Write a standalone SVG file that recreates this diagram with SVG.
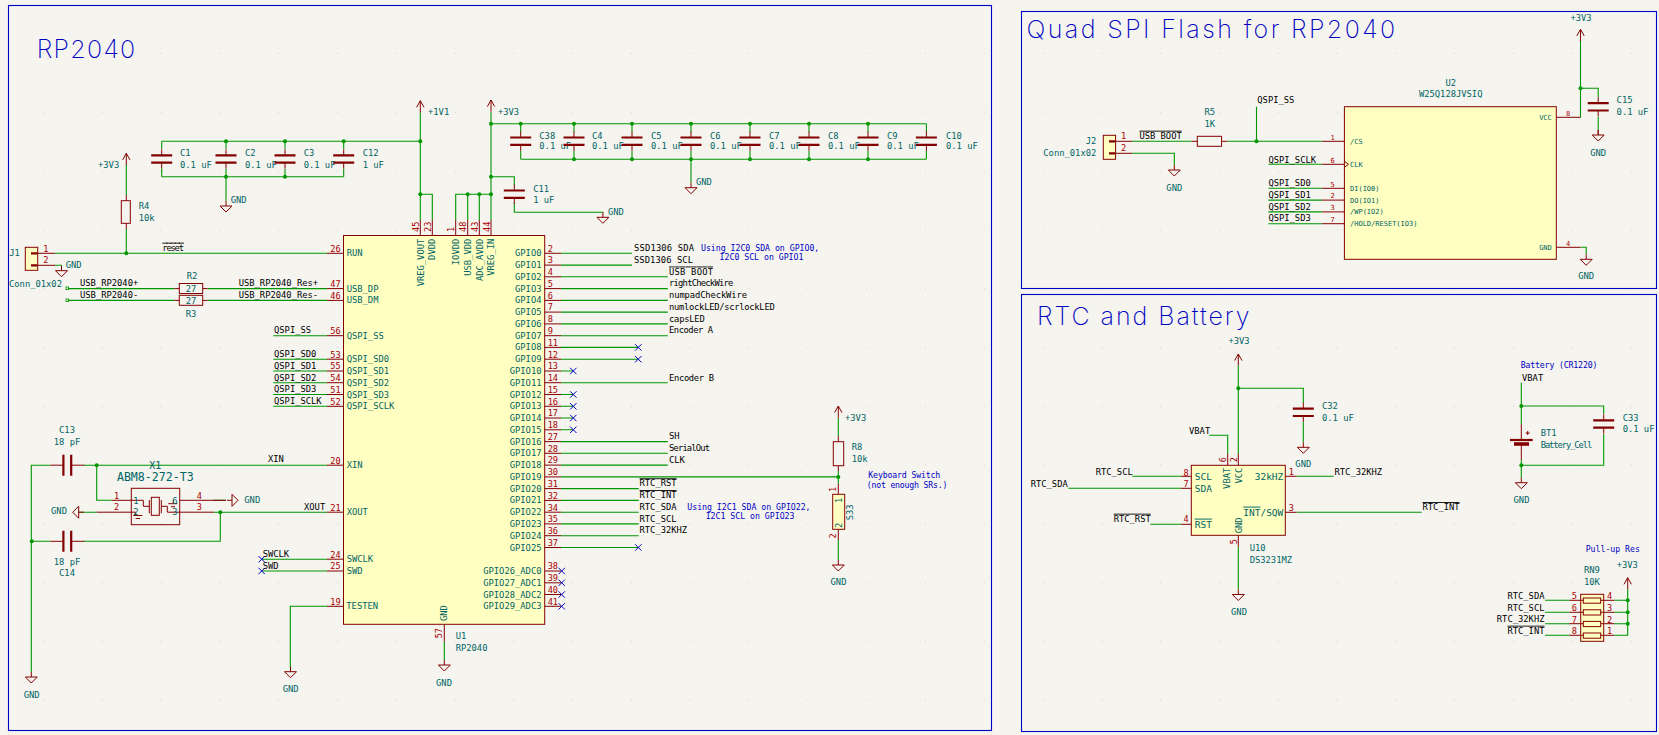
<svg xmlns="http://www.w3.org/2000/svg" width="1659" height="735" viewBox="0 0 1659 735">
<style>
text{font-family:"DejaVu Sans Mono","Liberation Mono",monospace;font-size:8.8px}
.t{fill:#006464}.n{fill:#a90000;font-size:8.6px}.l{fill:#000}.b{fill:#0000c2;font-size:8.2px}
.e{text-anchor:end}.m{text-anchor:middle}
.s{font-size:7px}
.ti{font-family:Inter,"Liberation Sans",sans-serif;font-weight:200;font-size:25px;fill:#0000c2}
.ov{text-decoration:overline}
.w{fill:none;stroke:#009600;stroke-width:1.1}
.p{fill:none;stroke:#840000;stroke-width:1}
.pt{fill:none;stroke:#840000;stroke-width:2.2}
.body{fill:#ffffc2;stroke:#840000;stroke-width:1}
.f{fill:none;stroke:#0000c8;stroke-width:1.1}
.j{fill:#009600}
.nc{fill:none;stroke:#0000c2;stroke-width:1}
</style>
<defs>
<pattern id="grid" x="43" y="53" width="58.8" height="58.8" patternUnits="userSpaceOnUse"><rect width="1" height="1" fill="#cfcfc8"/></pattern>
<path id="gnd" class="p" d="M0 -5V0M-6 0H6L0 6Z"/>
<path id="pwr" class="p" d="M-3.7 6.6L0 0L3.7 6.6M0 0V11.8"/>
<g id="cap"><path class="p" d="M0 -3.7V-9.7M0 3.7V9.7"/><path class="pt" d="M-10.5 -3.7H10.5M-10.5 3.7H10.5"/></g>
<g id="caph"><path class="p" d="M-3.9 0H-17M3.9 0H17"/><path class="pt" d="M-3.9 -10.5V10.5M3.9 -10.5V10.5"/></g>
<circle id="jn" class="j" r="2"/>
<path id="x" class="nc" d="M-3.2 -3.2L3.2 3.2M-3.2 3.2L3.2 -3.2"/>
</defs>
<rect width="1659" height="735" fill="#f5f4ef"/>
<rect width="1659" height="735" fill="url(#grid)"/>

<g id="frames">
<rect class="f" x="8.5" y="5.5" width="983" height="725"/>
<rect class="f" x="1021.5" y="11.5" width="635" height="277"/>
<rect class="f" x="1021.5" y="294.5" width="635" height="437"/>
<text class="ti" x="36.7" y="58" textLength="98.5">RP2040</text>
<text class="ti" x="1026.5" y="38.3" textLength="368.5">Quad SPI Flash for RP2040</text>
<text class="ti" x="1037" y="325" textLength="212.5">RTC and Battery</text>
</g>

<g id="connectors">
<path class="w" d="M420.3 112.5V220M420.3 194.3H432.3V220M161.7 141.3H420.3M161.7 141.3V149M226 141.3V149M285 141.3V149M343.7 141.3V149M161.7 176.7H343.7M161.7 176.7V169M226 176.7V169M285 176.7V169M343.7 176.7V169M226 176.7V201"/>
<path class="w" d="M491 112V220M455.7 220V194.3H491M467.7 194.3V220M479.3 194.3V220M491 123.7H926.4M520.7 123.7V132M574 123.7V132M632 123.7V132M691 123.7V132M750 123.7V132M809 123.7V132M868 123.7V132M926.4 123.7V132M520.7 159.3H926.4M520.7 159.3V151M574 159.3V151M632 159.3V151M691 159.3V151M750 159.3V151M809 159.3V151M868 159.3V151M926.4 159.3V151M691 159.3V182.7M491 176.7H514.3V185M514.3 203V212.3H602.9V212.8"/>
<path class="w" d="M126.3 165V195M126.3 229V253.3M55 253.3H327M55 265.3H61.5V265.7M68 288.6H174.3M207.7 288.6H327M68 300.4H174.3M207.7 300.4H327"/>
<path class="w" d="M273.3 335.7H327M273.3 359.2H327M273.3 371H327M273.3 382.7H327M273.3 394.5H327M273.3 406.3H327"/>
<path class="w" d="M31.3 672V465.2H50M83.7 465.2H327M96.7 465.2V500.3H111.7M31.3 541.3H50M83.7 541.3H220.3V512.2M78.7 512.2H96.7M214 500.3H226M214 512.2H327M261.7 559.2H327M261.7 571H327M327 606.3H290.3V667M444.3 641.7V660"/>
<path class="w" d="M561 253.3H632M561 265.1H632M561 276.8H667.8M561 288.6H667.8M561 300.4H667.8M561 312.1H667.8M561 323.9H667.8M561 335.7H667.8M561 347.4H638.3M561 359.2H638.3M561 371H573.3M561 382.7H667.8M561 394.5H573.3M561 406.3H573.3M561 418H573.3M561 429.8H573.3M561 441.6H667.8M561 453.3H667.8M561 465.1H667.8M561 476.9H838.3M561 488.6H638.7M561 500.4H638.7M561 512.2H638.7M561 523.9H638.7M561 535.7H638.7M561 547.5H638.3"/>
<path class="w" d="M838.3 418V436M838.3 471V484M838.3 540V560"/>
<path class="w" d="M1132 141.3H1191.6M1227.3 141.3H1321.8M1256.5 141.3V106.7M1132 153.3H1174.3V165M1268.4 164.3H1321.8M1268.4 188.3H1321.8M1268.4 200.1H1321.8M1268.4 211.9H1321.8M1268.4 223.7H1321.8M1580.5 41V117.3M1580.5 88.3H1598.2V97M1598.2 117V130M1580.5 247.3H1586.2V254.3"/>
<path class="w" d="M1238.3 366V454M1238.3 388.3H1303.3V403M1303.3 422V442.3M1209.3 435.3H1227.7V454M1132.3 476.3H1181M1068.3 488.3H1181M1150.3 524.3H1181M1296.7 476.3H1333.7M1296.7 512.3H1421.7M1238.3 546.7V589.5"/>
<path class="w" d="M1521.3 382.7V424M1521.3 406H1603.7V414M1603.7 434V465.3H1521.3M1521.3 460V477.7"/>
<path class="w" d="M1545 600.3H1569.3M1545 612.3H1569.3M1545 623.7H1569.3M1545 635.3H1569.3M1614.3 600.3H1627.7M1614.3 612.3H1627.7M1614.3 623.7H1627.7M1614.3 635.3H1627.7V589.5"/>
<rect x="66" y="287" width="2.6" height="2.6" fill="none" stroke="#009600" stroke-width="0.8"/>
<rect x="66" y="299" width="2.6" height="2.6" fill="none" stroke="#009600" stroke-width="0.8"/>
<g id="junctions">
<use href="#jn" x="420.3" y="141.3"/><use href="#jn" x="226" y="141.3"/><use href="#jn" x="285" y="141.3"/><use href="#jn" x="343.7" y="141.3"/>
<use href="#jn" x="226" y="176.7"/><use href="#jn" x="285" y="176.7"/><use href="#jn" x="420.3" y="194.3"/>
<use href="#jn" x="467.7" y="194.3"/><use href="#jn" x="479.3" y="194.3"/><use href="#jn" x="491" y="194.3"/><use href="#jn" x="491" y="176.7"/><use href="#jn" x="491" y="123.7"/>
<use href="#jn" x="520.7" y="123.7"/><use href="#jn" x="574" y="123.7"/><use href="#jn" x="632" y="123.7"/><use href="#jn" x="691" y="123.7"/><use href="#jn" x="750" y="123.7"/><use href="#jn" x="809" y="123.7"/><use href="#jn" x="868" y="123.7"/>
<use href="#jn" x="574" y="159.3"/><use href="#jn" x="632" y="159.3"/><use href="#jn" x="691" y="159.3"/><use href="#jn" x="750" y="159.3"/><use href="#jn" x="809" y="159.3"/><use href="#jn" x="868" y="159.3"/>
<use href="#jn" x="126.3" y="253.3"/><use href="#jn" x="96.7" y="465.2"/><use href="#jn" x="31.8" y="541.3"/><use href="#jn" x="220.3" y="512.2"/><use href="#jn" x="838.3" y="476.9"/>
<use href="#jn" x="1256.5" y="141.3"/><use href="#jn" x="1580.5" y="88.3"/><use href="#jn" x="1238.3" y="388.3"/><use href="#jn" x="1521.3" y="406"/><use href="#jn" x="1521.3" y="465.3"/>
<use href="#jn" x="1627.7" y="600.3"/><use href="#jn" x="1627.7" y="612.3"/><use href="#jn" x="1627.7" y="623.7"/>
</g>
<g id="no-connects">
<use href="#x" x="638.3" y="347.4"/><use href="#x" x="638.3" y="359.2"/><use href="#x" x="573.3" y="371"/><use href="#x" x="573.3" y="394.5"/><use href="#x" x="573.3" y="406.3"/><use href="#x" x="573.3" y="418"/><use href="#x" x="573.3" y="429.8"/><use href="#x" x="638.3" y="547.5"/>
<use href="#x" x="561.7" y="571"/><use href="#x" x="561.7" y="582.8"/><use href="#x" x="561.7" y="594.5"/><use href="#x" x="561.7" y="606.3"/><use href="#x" x="261.7" y="559.2"/><use href="#x" x="261.7" y="571"/>
</g>
</g>

<g id="net-labels">
<text class="l ov" x="162.3" y="250.7" textLength="21.7">reset</text>
<text class="l" x="80" y="286.2">USB_RP2040+</text><text class="l" x="80" y="297.7">USB_RP2040-</text>
<text class="l" x="238.7" y="286.3">USB_RP2040_Res+</text><text class="l" x="238.7" y="297.7">USB_RP2040_Res-</text>
<text class="l" x="274" y="333.3">QSPI_SS</text><text class="l" x="274" y="357">QSPI_SD0</text><text class="l" x="274" y="369">QSPI_SD1</text><text class="l" x="274" y="380.5">QSPI_SD2</text><text class="l" x="274" y="392.3">QSPI_SD3</text><text class="l" x="274" y="404">QSPI_SCLK</text>
<text class="l" x="268" y="462.3">XIN</text><text class="l" x="304" y="509.7">XOUT</text><text class="l" x="262.7" y="557.3">SWCLK</text><text class="l" x="262.7" y="568.7">SWD</text>
<text class="l" x="634" y="251" textLength="60">SSD1306 SDA</text><text class="l" x="634" y="262.8" textLength="59">SSD1306 SCL</text>
<text class="l ov" x="669" y="274.5" textLength="44">USB BOOT</text><text class="l" x="669" y="286.3" textLength="64.3">rightCheckWire</text><text class="l" x="669" y="298" textLength="78">numpadCheckWire</text><text class="l" x="669" y="309.8" textLength="105.7">numlockLED/scrlockLED</text><text class="l" x="669" y="321.6" textLength="35.7">capsLED</text><text class="l" x="669" y="333.3" textLength="44">Encoder A</text>
<text class="l" x="669" y="380.5" textLength="45">Encoder B</text><text class="l" x="669" y="439.3">SH</text><text class="l" x="669" y="451" textLength="41">SerialOut</text><text class="l" x="669" y="462.8">CLK</text>
<text class="l ov" x="639.5" y="486.3">RTC_RST</text><text class="l ov" x="639.5" y="498.1">RTC_INT</text><text class="l" x="639.5" y="509.9">RTC_SDA</text><text class="l" x="639.5" y="521.6">RTC_SCL</text><text class="l" x="639.5" y="533.4">RTC_32KHZ</text>
<text class="l" x="1257.3" y="103.3">QSPI_SS</text><text class="l ov" x="1139.4" y="138.7">USB BOOT</text><text class="l" x="1268.4" y="162.7">QSPI_SCLK</text><text class="l" x="1268.4" y="186.3">QSPI_SD0</text><text class="l" x="1268.4" y="197.9">QSPI_SD1</text><text class="l" x="1268.4" y="209.6">QSPI_SD2</text><text class="l" x="1268.4" y="221.4">QSPI_SD3</text>
<text class="l" x="1189" y="433.7">VBAT</text><text class="l" x="1095.7" y="474.7">RTC_SCL</text><text class="l" x="1030.7" y="486.7">RTC_SDA</text><text class="l ov" x="1113.7" y="521.7">RTC_RST</text><text class="l" x="1334.5" y="474.7">RTC_32KHZ</text><text class="l ov" x="1422.5" y="510">RTC_INT</text>
<text class="l" x="1522" y="380.7">VBAT</text>
<text class="l e" x="1544.5" y="598.7">RTC_SDA</text><text class="l e" x="1544.5" y="610.7">RTC_SCL</text><text class="l e" x="1544.5" y="621.7">RTC_32KHZ</text><text class="l e ov" x="1544.5" y="633.7">RTC_INT</text>
</g>

<g id="notes">
<text class="b" x="701" y="251.3">Using I2C0 SDA on GPIO0,</text><text class="b" x="719.6" y="260.3">I2C0 SCL on GPIO1</text>
<text class="b" x="687.3" y="510.3">Using I2C1 SDA on GPIO22,</text><text class="b" x="705.7" y="519.3">I2C1 SCL on GPIO23</text>
<text class="b" x="868.3" y="478.3" textLength="72">Keyboard Switch</text><text class="b" x="866.7" y="488" textLength="80.7">(not enough SRs.)</text>
<text class="b" x="1520.7" y="368" textLength="76.7">Battery (CR1220)</text><text class="b" x="1585.7" y="551.7">Pull-up Res</text>
</g>

<g id="power-symbols">
<use href="#pwr" x="420.3" y="100.7"/><text class="t" x="428" y="114.7">+1V1</text>
<use href="#pwr" x="491" y="100"/><text class="t" x="497.9" y="115">+3V3</text>
<use href="#pwr" x="126.3" y="153.3"/><text class="t" x="98" y="167.7">+3V3</text>
<use href="#pwr" x="838.3" y="406"/><text class="t" x="845" y="420.7">+3V3</text>
<use href="#pwr" x="1580.5" y="29.3"/><text class="t m" x="1581" y="20.7">+3V3</text>
<use href="#pwr" x="1238.3" y="354"/><text class="t m" x="1239" y="344.3">+3V3</text>
<use href="#pwr" x="1627.7" y="577.7"/><text class="t" x="1616.7" y="568">+3V3</text>
<use href="#gnd" x="226" y="206"/><text class="t" x="230.7" y="203.3">GND</text>
<use href="#gnd" x="691" y="187.7"/><text class="t" x="696" y="185.3">GND</text>
<use href="#gnd" x="602.9" y="217.3"/><text class="t" x="607.9" y="214.7">GND</text>
<use href="#gnd" x="61.5" y="270.7"/><text class="t" x="65.7" y="267.7">GND</text>
<use href="#gnd" x="31.3" y="677"/><text class="t m" x="31.7" y="698">GND</text>
<use href="#gnd" x="290.5" y="671.7"/><text class="t m" x="290.7" y="691.7">GND</text>
<use href="#gnd" x="444.3" y="665"/><text class="t m" x="444" y="685.7">GND</text>
<use href="#gnd" transform="translate(78.7 512.2) rotate(90)"/><text class="t m" x="59" y="513.7">GND</text>
<use href="#gnd" transform="translate(232 500.3) rotate(-90)"/><text class="t" x="244.3" y="503.3">GND</text>
<use href="#gnd" x="838.3" y="565"/><text class="t m" x="838.5" y="585.3">GND</text>
<use href="#gnd" x="1174.3" y="170"/><text class="t m" x="1174.3" y="191.3">GND</text>
<use href="#gnd" x="1598.2" y="135"/><text class="t m" x="1598.2" y="156">GND</text>
<use href="#gnd" x="1586.2" y="259.3"/><text class="t m" x="1586.2" y="279.3">GND</text>
<use href="#gnd" x="1303.3" y="447.3"/><text class="t m" x="1303.3" y="467.3">GND</text>
<use href="#gnd" x="1238.3" y="594.5"/><text class="t m" x="1239" y="615.3">GND</text>
<use href="#gnd" x="1521.3" y="482.7"/><text class="t m" x="1521.5" y="503.3">GND</text>
</g>

<g id="C1"><use href="#cap" x="161.7" y="159"/><text class="t" x="180" y="156">C1</text><text class="t" x="180" y="168">0.1 uF</text></g>
<g id="C2"><use href="#cap" x="226" y="159"/><text class="t" x="245" y="156">C2</text><text class="t" x="245" y="168">0.1 uF</text></g>
<g id="C3"><use href="#cap" x="285" y="159"/><text class="t" x="303.7" y="156">C3</text><text class="t" x="303.7" y="168">0.1 uF</text></g>
<g id="C12"><use href="#cap" x="343.7" y="159"/><text class="t" x="362.7" y="156">C12</text><text class="t" x="362.7" y="168">1 uF</text></g>
<g id="C38"><use href="#cap" x="520.7" y="141.2"/><text class="t" x="539.3" y="138.7">C38</text><text class="t" x="539.3" y="149.3">0.1 uF</text></g>
<g id="C4"><use href="#cap" x="574" y="141.2"/><text class="t" x="592" y="138.7">C4</text><text class="t" x="592" y="149.3">0.1 uF</text></g>
<g id="C5"><use href="#cap" x="632" y="141.2"/><text class="t" x="651" y="138.7">C5</text><text class="t" x="651" y="149.3">0.1 uF</text></g>
<g id="C6"><use href="#cap" x="691" y="141.2"/><text class="t" x="710" y="138.7">C6</text><text class="t" x="710" y="149.3">0.1 uF</text></g>
<g id="C7"><use href="#cap" x="750" y="141.2"/><text class="t" x="769" y="138.7">C7</text><text class="t" x="769" y="149.3">0.1 uF</text></g>
<g id="C8"><use href="#cap" x="809" y="141.2"/><text class="t" x="828" y="138.7">C8</text><text class="t" x="828" y="149.3">0.1 uF</text></g>
<g id="C9"><use href="#cap" x="868" y="141.2"/><text class="t" x="887" y="138.7">C9</text><text class="t" x="887" y="149.3">0.1 uF</text></g>
<g id="C10"><use href="#cap" x="926.4" y="141.2"/><text class="t" x="946" y="138.7">C10</text><text class="t" x="946" y="149.3">0.1 uF</text></g>
<g id="C11"><use href="#cap" x="514.3" y="194.2"/><text class="t" x="533.2" y="191.7">C11</text><text class="t" x="533.2" y="202.7">1 uF</text></g>
<g id="C13"><use href="#caph" x="67.3" y="465.2"/><text class="t m" x="67" y="432.7">C13</text><text class="t m" x="67" y="445">18 pF</text></g>
<g id="C14"><use href="#caph" x="67.3" y="541.3"/><text class="t m" x="67" y="564.7">18 pF</text><text class="t m" x="67" y="575.7">C14</text></g>
<g id="C15"><use href="#cap" x="1598.2" y="106.8"/><path class="p" d="M1598.2 130V135"/><text class="t" x="1616.6" y="102.7">C15</text><text class="t" x="1616.6" y="115">0.1 uF</text></g>
<g id="C32"><use href="#cap" x="1303.3" y="412.3"/><text class="t" x="1322" y="409.3">C32</text><text class="t" x="1322" y="420.7">0.1 uF</text></g>
<g id="C33"><use href="#cap" x="1603.7" y="424"/><text class="t" x="1622.7" y="420.7">C33</text><text class="t" x="1622.7" y="432.3">0.1 uF</text></g>

<g id="R4"><path class="p" d="M126.3 195V200.7M126.3 223.3V229"/><rect class="p" x="121.3" y="200.7" width="9" height="22.6"/><text class="t" x="138.7" y="209">R4</text><text class="t" x="138.7" y="221">10k</text></g>
<g id="R2"><path class="p" d="M174.3 288.6H179.3M202.7 288.6H207.7"/><rect class="p" x="179.3" y="283.5" width="23.4" height="10"/><text class="t m" x="191" y="292">27</text><text class="t m" x="192" y="278.7">R2</text></g>
<g id="R3"><path class="p" d="M174.3 300.4H179.3M202.7 300.4H207.7"/><rect class="p" x="179.3" y="295.3" width="23.4" height="10"/><text class="t m" x="191" y="303.8">27</text><text class="t m" x="191" y="317.3">R3</text></g>
<g id="R5"><path class="p" d="M1191.6 141.3H1197.3M1221.6 141.3H1227.3"/><rect class="p" x="1197.3" y="136.3" width="24.3" height="10"/><text class="t m" x="1209.7" y="114.7">R5</text><text class="t m" x="1209.7" y="126.7">1K</text></g>
<g id="R8"><path class="p" d="M838.3 436V441.7M838.3 465.7V471"/><rect class="p" x="833.3" y="441.7" width="10.4" height="24"/><text class="t" x="851.7" y="450.3">R8</text><text class="t" x="851.7" y="461.7">10k</text></g>

<g id="J1"><path class="p" d="M37.7 253.3H55M37.7 265.3H55"/><rect class="body" x="25.3" y="247.3" width="12.4" height="23"/><path class="pt" d="M31 253.3H37.7M31 265.3H37.7"/>
<text class="n" x="43.3" y="251.7">1</text><text class="n" x="43.3" y="263.3">2</text><text class="t" x="9.3" y="256">J1</text><text class="t" x="9" y="286.7">Conn_01x02</text></g>
<g id="J2"><path class="p" d="M1115.6 141.3H1132M1115.6 153.3H1132"/><rect class="body" x="1103.3" y="135.3" width="12.3" height="24"/><path class="pt" d="M1109 141.3H1115.6M1109 153.3H1115.6"/>
<text class="n" x="1121" y="139">1</text><text class="n" x="1121" y="151">2</text><text class="t e" x="1096.3" y="144.3">J2</text><text class="t e" x="1096.3" y="155.7">Conn_01x02</text></g>
<g id="SW33"><path class="p" d="M838.3 484V494.3M838.3 529.3V540"/><rect class="body" x="832.7" y="494.3" width="12" height="35"/>
<text class="n" transform="rotate(-90 835.5 492)" x="835.5" y="492">1</text><text class="n" transform="rotate(-90 835.5 538.5)" x="835.5" y="538.5">2</text>
<text class="t" transform="rotate(-90 841.5 503)" x="841.5" y="503">1</text><text class="t" transform="rotate(-90 841.5 528)" x="841.5" y="528">2</text>
<text class="t m" transform="rotate(-90 853.3 512.3)" x="853.3" y="512.3">S33</text></g>

<g id="X1"><rect class="p" x="131.3" y="488.3" width="48.4" height="36.4"/>
<path class="p" d="M111.7 500.3H143.3V506.3H149.3M96.7 512.2H135.7V515.5M179.7 500.3H214M179.7 512.2H214M213 500.3H226M161.3 506.3H167.3V512.2H180M173.3 500.3V503.7"/>
<path class="p" d="M149.3 500V513.3M161.3 500V513.3"/><rect class="p" x="151.3" y="497.3" width="8" height="18"/>
<path class="p" d="M133.3 515.5H142.3M135.7 518.5H140M168.3 503.7H177.3M171 506.7H175"/>
<text class="n" x="114" y="498.7">1</text><text class="n" x="114" y="510">2</text><text class="n" x="196.7" y="498.7">4</text><text class="n" x="196.7" y="510">3</text>
<text class="t m" x="136" y="503.7">1</text><text class="t m" x="136" y="515.3">2</text><text class="t m" x="175" y="503.7">6</text><text class="t m" x="175" y="515.3">3</text>
<text class="t m" x="155.3" y="468.7" style="font-size:10px">X1</text><text class="t m" x="155.3" y="480.7" style="font-size:11.6px">ABM8-272-T3</text></g>

<g id="U1">
<rect class="body" x="343.5" y="235.5" width="201.2" height="388.8"/>
<path class="p" d="M343.5 253.3H327M343.5 288.6H327M343.5 300.4H327M343.5 335.7H327M343.5 359.2H327M343.5 371H327M343.5 382.7H327M343.5 394.5H327M343.5 406.3H327M343.5 465.2H327M343.5 512.2H327M343.5 559.2H327M343.5 571H327M343.5 606.3H327M420.3 235.5V220M432.3 235.5V220M455.7 235.5V220M467.7 235.5V220M479.3 235.5V220M491 235.5V220M444.3 624.3V641.7"/>
<path class="p" d="M544.7 253.3H561M544.7 265.1H561M544.7 276.8H561M544.7 288.6H561M544.7 300.4H561M544.7 312.1H561M544.7 323.9H561M544.7 335.7H561M544.7 347.4H561M544.7 359.2H561M544.7 371H561M544.7 382.7H561M544.7 394.5H561M544.7 406.3H561M544.7 418H561M544.7 429.8H561M544.7 441.6H561M544.7 453.3H561M544.7 465.1H561M544.7 476.9H561M544.7 488.6H561M544.7 500.4H561M544.7 512.2H561M544.7 523.9H561M544.7 535.7H561M544.7 547.5H561M544.7 571H561M544.7 582.8H561M544.7 594.5H561M544.7 606.3H561"/>
<g class="names">
<text class="t" x="346.7" y="256.3">RUN</text><text class="t" x="346.7" y="291.6">USB_DP</text><text class="t" x="346.7" y="303.4">USB_DM</text><text class="t" x="346.7" y="338.7">QSPI_SS</text><text class="t" x="346.7" y="362.2">QSPI_SD0</text><text class="t" x="346.7" y="374">QSPI_SD1</text><text class="t" x="346.7" y="385.7">QSPI_SD2</text><text class="t" x="346.7" y="397.5">QSPI_SD3</text><text class="t" x="346.7" y="409.3">QSPI_SCLK</text><text class="t" x="346.7" y="468.2">XIN</text><text class="t" x="346.7" y="515.2">XOUT</text><text class="t" x="346.7" y="562.2">SWCLK</text><text class="t" x="346.7" y="574">SWD</text><text class="t" x="346.3" y="609.3">TESTEN</text>
<text class="t e" transform="rotate(-90 424 238.7)" x="424" y="238.7">VREG_VOUT</text><text class="t e" transform="rotate(-90 435.5 238.7)" x="435.5" y="238.7">DVDD</text><text class="t e" transform="rotate(-90 459 238.7)" x="459" y="238.7">IOVDD</text><text class="t e" transform="rotate(-90 471 238.7)" x="471" y="238.7">USB_VDD</text><text class="t e" transform="rotate(-90 482.7 238.7)" x="482.7" y="238.7">ADC_AVDD</text><text class="t e" transform="rotate(-90 494.5 238.7)" x="494.5" y="238.7">VREG_IN</text>
<text class="t" transform="rotate(-90 447 621)" x="447" y="621">GND</text>
<text class="t e" x="541.5" y="256.3">GPIO0</text><text class="t e" x="541.5" y="268.1">GPIO1</text><text class="t e" x="541.5" y="279.8">GPIO2</text><text class="t e" x="541.5" y="291.6">GPIO3</text><text class="t e" x="541.5" y="303.4">GPIO4</text><text class="t e" x="541.5" y="315.1">GPIO5</text><text class="t e" x="541.5" y="326.9">GPIO6</text><text class="t e" x="541.5" y="338.7">GPIO7</text><text class="t e" x="541.5" y="350.4">GPIO8</text><text class="t e" x="541.5" y="362.2">GPIO9</text><text class="t e" x="541.5" y="374">GPIO10</text><text class="t e" x="541.5" y="385.7">GPIO11</text><text class="t e" x="541.5" y="397.5">GPIO12</text><text class="t e" x="541.5" y="409.3">GPIO13</text><text class="t e" x="541.5" y="421">GPIO14</text><text class="t e" x="541.5" y="432.8">GPIO15</text><text class="t e" x="541.5" y="444.6">GPIO16</text><text class="t e" x="541.5" y="456.3">GPIO17</text><text class="t e" x="541.5" y="468.1">GPIO18</text><text class="t e" x="541.5" y="479.9">GPIO19</text><text class="t e" x="541.5" y="491.6">GPIO20</text><text class="t e" x="541.5" y="503.4">GPIO21</text><text class="t e" x="541.5" y="515.2">GPIO22</text><text class="t e" x="541.5" y="526.9">GPIO23</text><text class="t e" x="541.5" y="538.7">GPIO24</text><text class="t e" x="541.5" y="550.5">GPIO25</text><text class="t e" x="541.5" y="574">GPIO26_ADC0</text><text class="t e" x="541.5" y="585.8">GPIO27_ADC1</text><text class="t e" x="541.5" y="597.5">GPIO28_ADC2</text><text class="t e" x="541.5" y="609.3">GPIO29_ADC3</text>
</g>
<g class="numbers">
<text class="n e" x="340.7" y="251.6">26</text><text class="n e" x="340.7" y="286.9">47</text><text class="n e" x="340.7" y="298.7">46</text><text class="n e" x="340.7" y="334">56</text><text class="n e" x="340.7" y="357.5">53</text><text class="n e" x="340.7" y="369.3">55</text><text class="n e" x="340.7" y="381">54</text><text class="n e" x="340.7" y="392.8">51</text><text class="n e" x="340.7" y="404.6">52</text><text class="n e" x="340.7" y="463.5">20</text><text class="n e" x="340.7" y="510.5">21</text><text class="n e" x="340.7" y="557.5">24</text><text class="n e" x="340.7" y="569.3">25</text><text class="n e" x="340.7" y="604.6">19</text>
<text class="n" transform="rotate(-90 419 232)" x="419" y="232">45</text><text class="n" transform="rotate(-90 431 232)" x="431" y="232">23</text><text class="n" transform="rotate(-90 454.4 232)" x="454.4" y="232">1</text><text class="n" transform="rotate(-90 466.4 232)" x="466.4" y="232">48</text><text class="n" transform="rotate(-90 478 232)" x="478" y="232">43</text><text class="n" transform="rotate(-90 489.7 232)" x="489.7" y="232">44</text><text class="n" transform="rotate(-90 442.5 638.3)" x="442.5" y="638.3">57</text>
<text class="n" x="547.7" y="251.6">2</text><text class="n" x="547.7" y="263.4">3</text><text class="n" x="547.7" y="275.1">4</text><text class="n" x="547.7" y="286.9">5</text><text class="n" x="547.7" y="298.7">6</text><text class="n" x="547.7" y="310.4">7</text><text class="n" x="547.7" y="322.2">8</text><text class="n" x="547.7" y="334">9</text><text class="n" x="547.7" y="345.7">11</text><text class="n" x="547.7" y="357.5">12</text><text class="n" x="547.7" y="369.3">13</text><text class="n" x="547.7" y="381">14</text><text class="n" x="547.7" y="392.8">15</text><text class="n" x="547.7" y="404.6">16</text><text class="n" x="547.7" y="416.3">17</text><text class="n" x="547.7" y="428.1">18</text><text class="n" x="547.7" y="439.9">27</text><text class="n" x="547.7" y="451.6">28</text><text class="n" x="547.7" y="463.4">29</text><text class="n" x="547.7" y="475.2">30</text><text class="n" x="547.7" y="486.9">31</text><text class="n" x="547.7" y="498.7">32</text><text class="n" x="547.7" y="510.5">34</text><text class="n" x="547.7" y="522.2">35</text><text class="n" x="547.7" y="534">36</text><text class="n" x="547.7" y="545.8">37</text><text class="n" x="547.7" y="569.3">38</text><text class="n" x="547.7" y="581.1">39</text><text class="n" x="547.7" y="592.8">40</text><text class="n" x="547.7" y="604.6">41</text>
</g>
<text class="t" x="455.7" y="638.7">U1</text><text class="t" x="455.7" y="650.7">RP2040</text>
</g>

<g id="U2">
<rect class="body" x="1344.4" y="106.7" width="211.9" height="152.6"/>
<path class="p" d="M1344.4 141.3H1321.8M1344.4 164.3H1321.8M1344.4 188.3H1321.8M1344.4 200.1H1321.8M1344.4 211.9H1321.8M1344.4 223.7H1321.8M1556.3 117.3H1580.5M1556.3 247.3H1580.5M1344.4 161.3L1348.5 164.3L1344.4 167.3"/>
<text class="t s" x="1350" y="143.8">/CS</text><text class="t s" x="1350" y="166.8">CLK</text><text class="t s" x="1350" y="190.8">DI(IO0)</text><text class="t s" x="1350" y="202.6">DO(IO1)</text><text class="t s" x="1350" y="214.4">/WP(IO2)</text><text class="t s" x="1350" y="226.2">/HOLD/RESET(IO3)</text><text class="t s e" x="1551.8" y="119.8">VCC</text><text class="t s e" x="1551.8" y="249.8">GND</text>
<text class="n m s" x="1332.5" y="139.5">1</text><text class="n m s" x="1332.5" y="162.5">6</text><text class="n m s" x="1332.5" y="186.5">5</text><text class="n m s" x="1332.5" y="198.3">2</text><text class="n m s" x="1332.5" y="210.1">3</text><text class="n m s" x="1332.5" y="221.9">7</text><text class="n m s" x="1568" y="116">8</text><text class="n m s" x="1568" y="245.7">4</text>
<text class="t m" x="1450.7" y="85.7">U2</text><text class="t m" x="1450.7" y="97">W25Q128JVSIQ</text>
</g>

<g id="U10">
<rect class="body" x="1191.3" y="465.3" width="94" height="70"/>
<path class="p" d="M1191.3 476.3H1181M1191.3 488.3H1181M1191.3 524.3H1181M1285.3 476.3H1296.7M1285.3 512.3H1296.7M1227.7 465.3V454M1238.3 465.3V454M1238.3 535.3V546.7"/>
<text class="t" x="1194.7" y="479.6" style="font-size:9.5px">SCL</text><text class="t" x="1194.7" y="491.6" style="font-size:9.5px">SDA</text><text class="t ov" x="1194.7" y="527.6" style="font-size:9.5px">RST</text>
<text class="t e" x="1283.3" y="479.6" style="font-size:9.5px">32kHZ</text><text class="t e" x="1283.3" y="515.6" style="font-size:9.5px"><tspan class="ov">INT</tspan>/SQW</text>
<text class="t e" transform="rotate(-90 1230 467.7)" x="1230" y="467.7">VBAT</text><text class="t e" transform="rotate(-90 1241.7 467.7)" x="1241.7" y="467.7">VCC</text><text class="t" transform="rotate(-90 1241.7 533.3)" x="1241.7" y="533.3">GND</text>
<text class="n m" x="1186" y="475.5">8</text><text class="n m" x="1186" y="487">7</text><text class="n m" x="1186" y="522.3">4</text><text class="n m" x="1291.3" y="475.3">1</text><text class="n m" x="1291.3" y="510.7">3</text>
<text class="n" transform="rotate(-90 1225.7 462.3)" x="1225.7" y="462.3">6</text><text class="n" transform="rotate(-90 1236.7 462.3)" x="1236.7" y="462.3">2</text><text class="n" transform="rotate(-90 1236.7 544.3)" x="1236.7" y="544.3">5</text>
<text class="t" x="1249.7" y="550.7">U10</text><text class="t" x="1249.7" y="562.7">DS3231MZ</text>
</g>

<g id="BT1">
<path class="p" d="M1521.3 424V439M1521.3 445V460M1525.7 433H1529.7M1527.7 431V435"/>
<path class="pt" d="M1510 440H1532.7"/><path fill="none" stroke="#840000" stroke-width="3.6" d="M1514 444H1529"/>
<text class="t" x="1540.7" y="435.7">BT1</text><text class="t" x="1540.7" y="447.7" textLength="51.5">Battery_Cell</text>
</g>

<g id="RN9">
<rect class="body" x="1580.7" y="594.3" width="23" height="47"/>
<path class="p" d="M1569.3 600.3H1583.3M1600.7 600.3H1614.3M1569.3 612.3H1583.3M1600.7 612.3H1614.3M1569.3 623.7H1583.3M1600.7 623.7H1614.3M1569.3 635.3H1583.3M1600.7 635.3H1614.3"/>
<rect class="p" x="1583.3" y="598" width="17.4" height="5.2"/><rect class="p" x="1583.3" y="609.8" width="17.4" height="5.2"/><rect class="p" x="1583.3" y="621.4" width="17.4" height="5.2"/><rect class="p" x="1583.3" y="633" width="17.4" height="5.2"/>
<text class="n m" x="1574.3" y="599">5</text><text class="n m" x="1574.3" y="611">6</text><text class="n m" x="1574.3" y="622.7">7</text><text class="n m" x="1574.3" y="634">8</text>
<text class="n m" x="1609.7" y="599">4</text><text class="n m" x="1609.7" y="611">3</text><text class="n m" x="1609.7" y="622.7">2</text><text class="n m" x="1609.7" y="634">1</text>
<text class="t" x="1584" y="573.3">RN9</text><text class="t" x="1584" y="585.3">10K</text>
</g>
</svg>
